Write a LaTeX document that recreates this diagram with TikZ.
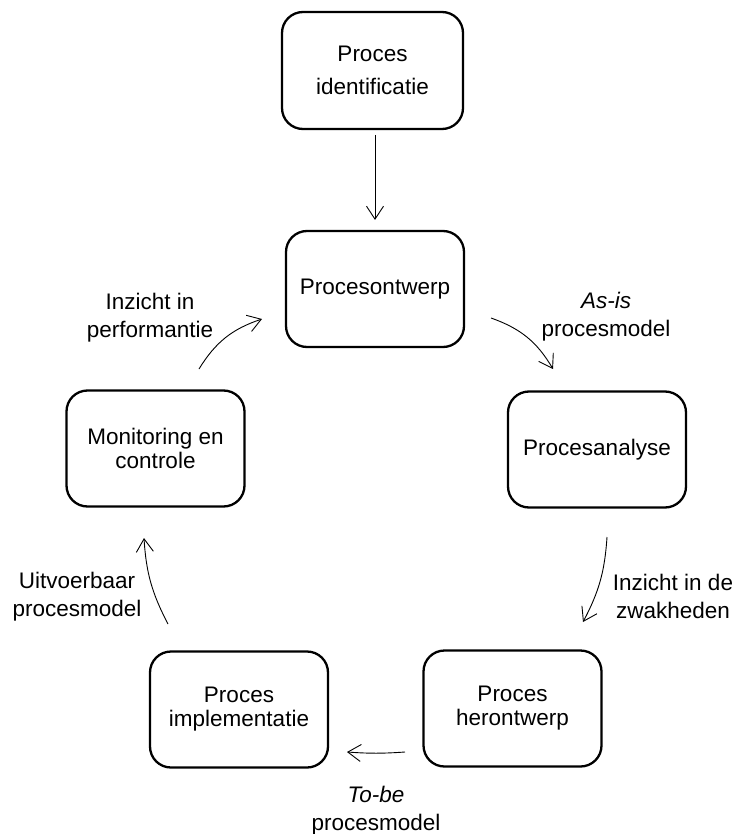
\documentclass[tikz,border=0pt]{standalone}
\usepackage{fontspec}
\setmainfont{Liberation Sans}
\usetikzlibrary{arrows.meta}
\begin{document}
\begin{tikzpicture}[x=1pt,y=-1pt,
  box/.style={draw, line width=2.3pt, rounded corners=21pt, align=center, inner sep=0pt,
              minimum width=178pt, minimum height=116pt, font=\fontsize{22.5}{24}\selectfont},
  lbl/.style={align=center, inner sep=0pt, font=\fontsize{22.5}{28}\selectfont},
  flow/.style={line width=0.9pt, -{Straight Barb[length=13pt,width=17pt,line width=0.9pt]}}]
\useasboundingbox (0,0) rectangle (734,834);
\node[box, minimum width=181pt, minimum height=117pt, font=\fontsize{22.5}{33}\selectfont] (ident) at (372.5,70.5) {Proces\\identificatie};
\node[box] (ontw) at (375,289) {Procesontwerp};
\node[box] (anal) at (597,449.5) {Procesanalyse};
\node[box] (heron) at (512.5,708.5) {Proces\\herontwerp};
\node[box] (impl) at (239,709.5) {Proces\\implementatie};
\node[box] (moni) at (155.5,448.5) {Monitoring en\\controle};

\coordinate (a1s) at (375,135);
\coordinate (a1e) at (375,220);
\coordinate (a2s) at (199,369);
\coordinate (a2e) at (262,319);
\coordinate (a3s) at (491,318);
\coordinate (a3e) at (553,369);
\coordinate (a4s) at (607,537);
\coordinate (a4e) at (583,622);
\coordinate (a5s) at (405,752);
\coordinate (a5e) at (347,752);
\coordinate (a6s) at (168,624);
\coordinate (a6e) at (144,538);

\draw[flow] (a1s) -- (a1e);
\draw[flow] (a2s) to[bend left=20] (a2e);
\draw[flow] (a3s) to[bend left=20] (a3e);
\draw[flow] (a4s) to[bend left=12] (a4e);
\draw[flow] (a5s) to[bend left=4] (a5e);
\draw[flow] (a6s) to[bend left=12] (a6e);

\node[lbl] (l2) at (150,318) {Inzicht in\\performantie};
\node[lbl] (l3) at (606,317) {\textit{As-is}\\procesmodel};
\node[lbl] (l4) at (673,596) {Inzicht in de\\zwakheden};
\node[lbl] (l5) at (376,811) {\textit{To-be}\\procesmodel};
\node[lbl] (l6) at (77,597) {Uitvoerbaar\\procesmodel};
\end{tikzpicture}
\end{document}
